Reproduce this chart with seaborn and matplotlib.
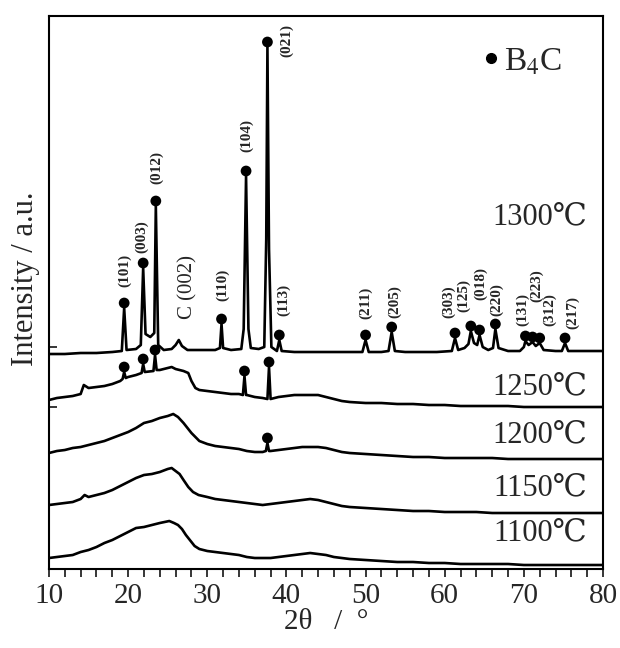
import pandas as pd
import matplotlib.pyplot as plt
import seaborn as sns
from matplotlib.ticker import MultipleLocator
from matplotlib.lines import Line2D

# XRD patterns (intensity in arbitrary offset units)
x_1100 = [10, 11, 12, 13, 14, 15, 16, 17, 18, 19, 20, 21, 22, 23, 24, 24.6, 25.2, 25.8, 26.3, 26.8, 27.3,
          27.8, 28.4, 29, 30, 31, 32, 33, 34, 35, 36, 37, 38, 39, 40, 41, 42, 43, 44, 45, 46, 47, 48, 50,
          52, 54, 56, 58, 60, 62, 64, 66, 68, 70, 72, 74, 76, 78, 80]
y_1100 = [11, 12, 13, 14, 17, 19, 22, 26, 29, 33, 37, 41, 42, 44, 46, 47, 48, 46, 44, 40, 34,
          29, 23, 20, 18, 17, 16, 15, 14, 12, 11, 11, 11, 12, 13, 14, 15, 16, 15, 14, 12, 11, 10, 9,
          8, 7, 7, 6, 6, 5, 5, 5, 5, 4, 4, 4, 4, 4, 4]

x_1150 = [10, 11, 12, 13, 14, 14.5, 15, 16, 17, 18, 19, 20, 21, 22, 23, 24, 25, 25.5, 26, 26.5, 27, 27.6,
          28.2, 28.9, 30, 31, 32, 33, 34, 35, 36, 37, 38, 39, 40, 41, 42, 43, 44, 45, 46, 47, 48, 50,
          52, 54, 56, 58, 60, 62, 64, 66, 68, 70, 72, 74, 76, 78, 80]
y_1150 = [64, 65, 66, 67, 70, 74, 72, 74, 76, 79, 83, 87, 91, 94, 95, 97, 100, 101, 98, 95, 89, 82,
          77, 74, 72, 70, 69, 68, 67, 66, 65, 64, 65, 66, 67, 68, 69, 70, 69, 67, 65, 63, 62, 61,
          60, 59, 58, 58, 57, 57, 57, 56, 56, 56, 56, 56, 56, 56, 56]

x_1200 = [10, 11, 12, 13, 14, 15, 16, 17, 18, 19, 20, 21, 22, 23, 24, 25, 25.7, 26.3, 27, 28, 29, 30,
          31, 32, 33, 34, 35, 36, 37, 37.4, 37.6, 37.8, 38, 39, 40, 41, 42, 43, 44, 45, 46, 47, 48,
          50, 52, 54, 56, 58, 60, 62, 64, 66, 68, 70, 72, 74, 76, 78, 80]
y_1200 = [116, 118, 119, 121, 122, 124, 126, 128, 131, 134, 137, 141, 146, 148, 151, 153, 155, 152, 146,
          136, 128, 125, 123, 122, 121, 120, 118, 117, 117, 118, 126, 118, 118, 119, 120, 121, 122,
          122, 122, 121, 119, 117, 116, 115, 114, 113, 112, 112, 111, 111, 111, 111, 110, 110, 110,
          110, 110, 110, 110]

x_1250 = [10, 11, 12, 13, 14, 14.4, 15, 16, 17, 18, 19, 19.3, 19.5, 19.7, 20, 21, 21.7, 21.9, 22.1, 23.2,
          23.4, 23.6, 24, 25, 25.5, 26, 27, 27.6, 28, 28.5, 29, 30, 31, 32, 33, 34, 34.5, 34.7, 34.9,
          35, 36, 37, 37.6, 37.8, 38, 39, 40, 41, 42, 43, 44, 45, 46, 47, 48, 50, 52, 54, 56, 58, 60,
          62, 64, 66, 68, 70, 72, 74, 76, 78, 80]
y_1250 = [169, 171, 172, 173, 175, 184, 181, 182, 183, 185, 188, 190, 197, 191, 192, 194, 196, 205, 197,
          198, 214, 199, 199, 201, 202, 200, 198, 196, 188, 181, 179, 178, 177, 176, 175, 175, 174,
          193, 174, 174, 172, 171, 170, 202, 170, 172, 173, 174, 174, 174, 174, 172, 170, 168, 167,
          166, 166, 165, 165, 164, 164, 163, 163, 163, 163, 162, 162, 162, 162, 162, 162]

x_1300 = [10, 12, 14, 16, 18, 19.2, 19.5, 19.8, 21, 21.6, 21.9, 22.2, 22.8, 23.3, 23.5, 23.8, 24.5, 25.5,
          26, 26.4, 26.8, 27.5, 29, 31, 31.6, 31.8, 32.0, 33, 34.3, 34.6, 34.9, 35.2, 35.5, 36.5,
          37.2, 37.45, 37.6, 37.8, 38.1, 38.8, 39.1, 39.4, 41, 43, 45, 47, 49.6, 50.0, 50.4, 52, 52.9,
          53.3, 53.7, 55, 57, 59, 60.9, 61.3, 61.7, 62.5, 63.0, 63.3, 63.7, 64.1, 64.4, 64.8, 65.5,
          66.1, 66.4, 66.8, 68, 69.5, 70.0, 70.2, 70.6, 71.1, 71.5, 72.0, 72.5, 74, 74.8, 75.2, 75.6,
          77, 80]
y_1300 = [215, 215, 216, 216, 217, 218, 261, 219, 220, 224, 301, 235, 232, 236, 363, 224, 219, 220,
          224, 229, 223, 219, 219, 219, 221, 245, 221, 219, 220, 240, 393, 240, 221, 220,
          222, 330, 522, 320, 222, 218, 229, 218, 217, 217, 217, 217, 217, 229, 217, 217, 218,
          237, 218, 217, 217, 217, 218, 231, 219, 221, 225, 238, 226, 224, 234, 222, 219,
          221, 240, 221, 218, 218, 222, 228, 224, 227, 223, 226, 219, 218, 218, 226, 218,
          218, 218]

# B4C peak markers
dot_x_1300 = [19.5, 21.9, 23.5, 31.8, 34.9, 37.6, 39.1, 50.0, 53.3, 61.3, 63.3, 64.4, 66.4, 70.2, 71.1, 72.0, 75.2]
dot_y_1300 = [266, 306, 368, 250, 398, 527, 234, 234, 242, 236, 243, 239, 245, 233, 232, 231, 231]
dot_x_1250 = [19.5, 21.9, 23.4, 34.7, 37.8]
dot_y_1250 = [202, 210, 219, 198, 207]
dot_x_1200 = [37.6]
dot_y_1200 = [131]

# hkl labels
hkl = ["(101)", "(003)", "(012)", "(110)", "(104)", "(021)", "(113)", "(211)", "(205)", "(303)",
       "(125)", "(018)", "(220)", "(131)", "(223)", "(312)", "(217)"]
hkl_x = [19.5, 21.7, 23.6, 32.0, 35.0, 40.0, 39.6, 50.0, 53.7, 60.5, 62.4, 64.6, 66.5, 69.9, 71.6, 73.3, 76.2]
hkl_y = [299, 332, 402, 284, 434, 529, 269, 266, 267, 267, 274, 286, 269, 260, 283, 259, 257]

temps = ["1300℃", "1250℃", "1200℃", "1150℃", "1100℃"]
temp_y = [352, 182, 134, 81, 36]

sns.set_style("ticks")
plt.rcParams['font.family'] = ['Liberation Serif', 'DejaVu Serif', 'Noto Sans CJK SC']
plt.rcParams['mathtext.fontset'] = 'stix'

fig = plt.figure(figsize=(6.2, 6.48), dpi=100)
ax = fig.add_axes([0.079, 0.1219, 0.8936, 0.8534])

curves = [(x_1100, y_1100), (x_1150, y_1150), (x_1200, y_1200), (x_1250, y_1250), (x_1300, y_1300)]
for xs, ys in curves:
    sns.lineplot(x=xs, y=ys, ax=ax, color="black", linewidth=1.9, estimator=None)

for xs, ys in [(dot_x_1300, dot_y_1300), (dot_x_1250, dot_y_1250), (dot_x_1200, dot_y_1200)]:
    sns.scatterplot(x=xs, y=ys, ax=ax, color="black", s=60, edgecolor="none", zorder=3)

for lab, lx, ly in zip(hkl, hkl_x, hkl_y):
    ax.text(lx, ly, lab, rotation=90, ha="center", va="center", fontsize=11, fontweight="bold")
ax.text(27.55, 282, "C (002)", rotation=90, ha="center", va="center", fontsize=15)

for t, ty in zip(temps, temp_y):
    ax.text(78.0, ty, t, ha="right", va="center", fontsize=22)

handle = Line2D([], [], marker="o", ls="", color="black", markersize=7)
ax.legend([handle], ["B$_4$C"], loc="center left", bbox_to_anchor=(0.78, 0.917), frameon=False,
          fontsize=24, borderpad=0, borderaxespad=0, handlelength=0.6, handletextpad=0.1)

ax.set_xlim(10, 80)
ax.set_ylim(0, 553)
ax.set_xticks(range(10, 81, 10))
ax.xaxis.set_minor_locator(MultipleLocator(2))
ax.tick_params(axis="x", which="both", direction="out", length=6, width=1.3, labelsize=21, pad=4)
ax.set_yticks([162, 222])
ax.tick_params(axis="y", direction="in", length=6, width=1.3, labelleft=False)
for sp in ax.spines.values():
    sp.set_linewidth(1.5)
    sp.set_color("black")

ax.set_xlabel("2θ   /  °", fontsize=21, labelpad=0)
ax.set_ylabel("Intensity / a.u.", fontsize=22)
ax.yaxis.set_label_coords(-0.016, 0.525)

fig.savefig("out.png", dpi=100)
